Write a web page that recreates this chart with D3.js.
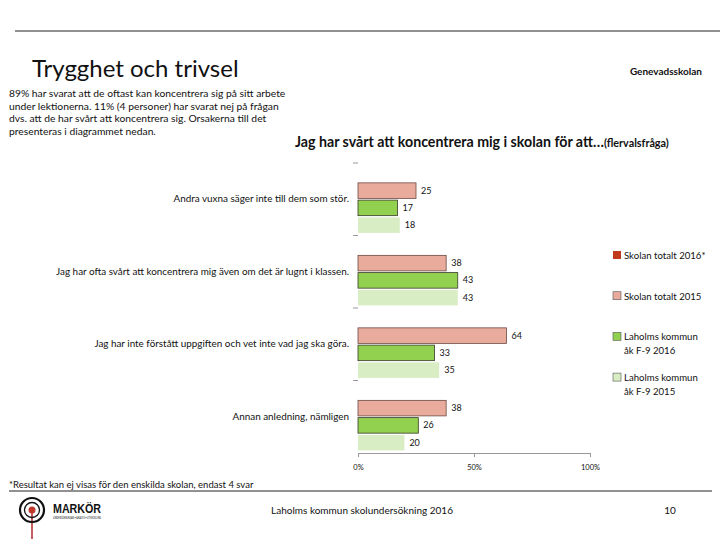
<!DOCTYPE html>
<html>
<head>
<meta charset="utf-8">
<script src="https://cdn.jsdelivr.net/npm/d3@7"></script>
<style>
  body { margin: 0; background: #fff; }
  text { font-family: Lato, "Open Sans", sans-serif; fill: #111; }
</style>
</head>
<body>
<script>
var width = 720,
    height = 540;

// data
var categories = [
  'Andra vuxna säger inte till dem som stör.',
  'Jag har ofta svårt att koncentrera mig även om det är lugnt i klassen.',
  'Jag har inte förstått uppgiften och vet inte vad jag ska göra.',
  'Annan anledning, nämligen'
];
var seriesNames = ['Skolan totalt 2016*', 'Skolan totalt 2015', 'Laholms kommun åk F-9 2016', 'Laholms kommun åk F-9 2015'];
var skolan2016 = [null, null, null, null];
var skolan2015 = [25, 38, 64, 38];
var laholms2016 = [17, 43, 33, 26];
var laholms2015 = [18, 43, 35, 20];
var xTicks = [0, 50, 100];
var seriesValues = [skolan2016, skolan2015, laholms2016, laholms2015];
var colors = ['#c0391b', '#e9ab9b', '#92d050', '#d8edc3'];
var strokes = ['none', '#6b4a42', '#3a3a2a', 'none'];

var svg = d3.select('body')
  .append('svg')
  .attr('width', width)
  .attr('height', height);

// header line + titles
svg.append('line')
  .attr('x1', 15).attr('x2', 720)
  .attr('y1', 31).attr('y2', 31)
  .attr('stroke', '#222').attr('stroke-width', 1);

svg.append('text')
  .attr('x', 32).attr('y', 77)
  .style('font-size', '24px')
  .text('Trygghet och trivsel');

svg.append('text')
  .attr('x', 702).attr('y', 75)
  .attr('text-anchor', 'end')
  .style('font-size', '10px').style('font-weight', 'bold')
  .text('Genevadsskolan');

var intro = [
  '89% har svarat att de oftast kan koncentrera sig på sitt arbete',
  'under lektionerna. 11% (4 personer) har svarat nej på frågan',
  'dvs. att de har svårt att koncentrera sig. Orsakerna till det',
  'presenteras i diagrammet nedan.'
];
svg.append('g').selectAll('text')
  .data(intro)
  .enter()
  .append('text')
  .attr('x', 9)
  .attr('y', function(d, i) { return 97 + i * 12.7; })
  .style('font-size', '10.3px')
  .text(function(d) { return d; });

var title = svg.append('text')
  .attr('x', 295).attr('y', 147)
  .style('font-size', '14.2px').style('font-weight', 'bold');
title.append('tspan').text('Jag har svårt att koncentrera mig i skolan  för att…');
title.append('tspan').style('font-size', '10.8px').text('(flervalsfråga)');

// chart
var x = d3.scaleLinear().domain([0, 100]).range([358, 590]);
var y = d3.scaleBand().domain(d3.range(categories.length)).range([163, 453]);
var ySub = d3.scaleBand().domain(d3.range(seriesNames.length))
  .range([0, y.bandwidth()]).paddingInner(0.1).paddingOuter(0.15);

var chart = svg.append('g');

// category separator ticks
chart.selectAll('line.sep')
  .data(d3.range(categories.length))
  .enter()
  .append('line')
  .attr('class', 'sep')
  .attr('x1', 353).attr('x2', 358)
  .attr('y1', function(d) { return y(d); })
  .attr('y2', function(d) { return y(d); })
  .attr('stroke', '#999');

chart.selectAll('text.cat')
  .data(categories)
  .enter()
  .append('text')
  .attr('class', 'cat')
  .attr('x', 349)
  .attr('y', function(d, i) { return y(i) + y.bandwidth() / 2 + 3; })
  .attr('text-anchor', 'end')
  .style('font-size', '9.9px')
  .text(function(d) { return d; });

var bars = [];
seriesValues.forEach(function(vals, s) {
  vals.forEach(function(v, i) {
    if (v !== null) bars.push({ s: s, i: i, v: v });
  });
});

chart.selectAll('rect.bar')
  .data(bars)
  .enter()
  .append('rect')
  .attr('class', 'bar')
  .attr('x', x(0))
  .attr('y', function(d) { return y(d.i) + ySub(d.s); })
  .attr('width', function(d) { return x(d.v) - x(0); })
  .attr('height', ySub.bandwidth())
  .attr('fill', function(d) { return colors[d.s]; })
  .attr('stroke', function(d) { return strokes[d.s]; })
  .attr('stroke-width', 0.8);

chart.selectAll('text.val')
  .data(bars)
  .enter()
  .append('text')
  .attr('class', 'val')
  .attr('x', function(d) { return x(d.v) + 5; })
  .attr('y', function(d) { return y(d.i) + ySub(d.s) + ySub.bandwidth() / 2 + 3; })
  .style('font-size', '9px')
  .text(function(d) { return d.v; });

var xAxis = chart.append('g')
  .attr('transform', 'translate(0,453)')
  .call(d3.axisBottom(x).tickValues(xTicks)
    .tickSize(4).tickPadding(8)
    .tickFormat(function(d) { return d + '%'; }));
xAxis.select('.domain').attr('stroke', '#999');
xAxis.selectAll('line').attr('stroke', '#999');
xAxis.selectAll('text').style('font-size', '7.5px').attr('fill', '#222');

// legend
var legend = svg.append('g');
var legendLines = [['Skolan totalt 2016*'], ['Skolan totalt 2015'], ['Laholms kommun', 'åk F-9 2016'], ['Laholms kommun', 'åk F-9 2015']];
var item = legend.selectAll('g')
  .data(legendLines)
  .enter()
  .append('g')
  .attr('transform', function(d, i) { return 'translate(613,' + (251 + i * 40.7) + ')'; });
item.append('rect')
  .attr('width', 8).attr('height', 8)
  .attr('fill', function(d, i) { return colors[i]; })
  .attr('stroke', function(d, i) { return i === 0 ? 'none' : '#555'; })
  .attr('stroke-width', 0.6);
item.selectAll('text')
  .data(function(d) { return d; })
  .enter()
  .append('text')
  .attr('x', 11)
  .attr('y', function(d, j) { return 8 + j * 13.5; })
  .style('font-size', '9.6px')
  .text(function(d) { return d; });

// footer
svg.append('text')
  .attr('x', 9).attr('y', 488)
  .style('font-size', '9.5px')
  .text('*Resultat kan ej visas för den enskilda skolan, endast 4 svar');

svg.append('line')
  .attr('x1', 9).attr('x2', 712)
  .attr('y1', 491).attr('y2', 491)
  .attr('stroke', '#222').attr('stroke-width', 1);

svg.append('text')
  .attr('x', 362).attr('y', 514)
  .attr('text-anchor', 'middle')
  .style('font-size', '10px')
  .text('Laholms kommun skolundersökning 2016');

svg.append('text')
  .attr('x', 670).attr('y', 514)
  .attr('text-anchor', 'middle')
  .style('font-size', '10px')
  .text('10');

// logo
var logo = svg.append('g').attr('transform', 'translate(32,510)');
logo.append('line').attr('x1', 0).attr('x2', 0).attr('y1', 0).attr('y2', 29)
  .attr('stroke', '#b22a2a').attr('stroke-width', 1.5);
logo.append('circle').attr('r', 12).attr('fill', 'none').attr('stroke', '#111').attr('stroke-width', 2.2);
logo.append('circle').attr('r', 7.5).attr('fill', 'none').attr('stroke', '#111').attr('stroke-width', 1.3);
logo.append('circle').attr('r', 3.5).attr('fill', '#c0392b');
logo.append('text')
  .attr('x', 21).attr('y', 3)
  .attr('textLength', 48).attr('lengthAdjust', 'spacingAndGlyphs')
  .style('font-size', '13px').style('font-weight', '900')
  .style('font-family', '"Liberation Sans", sans-serif')
  .text('MARKÖR');
logo.append('text')
  .attr('x', 21).attr('y', 9)
  .attr('textLength', 48).attr('lengthAdjust', 'spacingAndGlyphs')
  .style('font-size', '3.5px')
  .text('UNDERSÖKNINGAR • ANALYS • UTVECKLING');
</script>
</body>
</html>
